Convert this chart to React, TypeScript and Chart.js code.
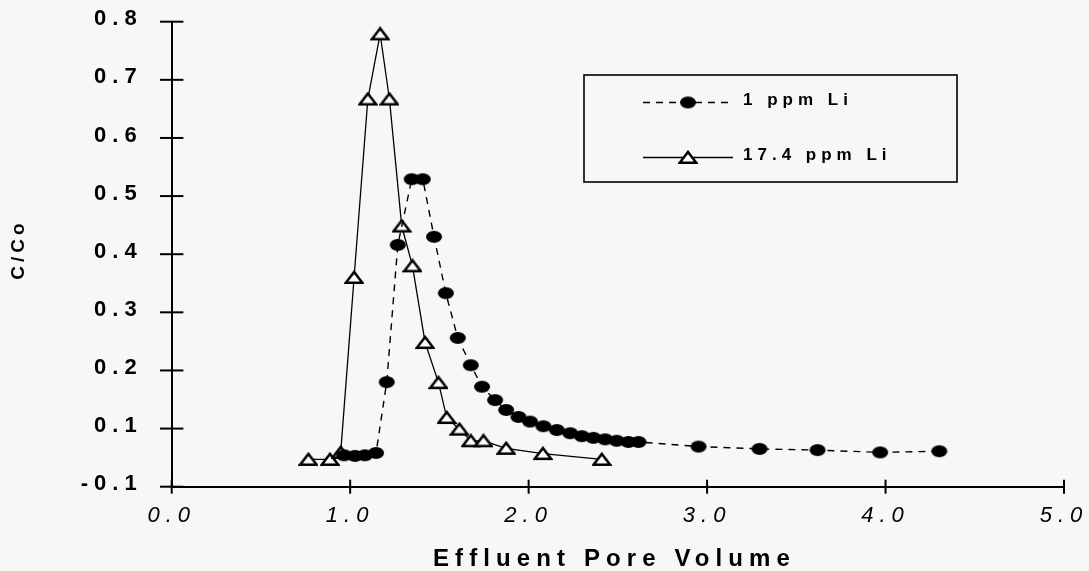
import React, { useEffect, useRef } from 'react';
import { Chart, registerables } from 'chart.js';

Chart.register(...registerables);

// ---- data ----
const SERIES_LABELS = ['1 ppm Li', '17.4 ppm Li'];

const LI1_X = [0.966, 1.027, 1.083, 1.145, 1.205, 1.267, 1.345, 1.407, 1.47, 1.536, 1.603, 1.676, 1.739, 1.812, 1.874, 1.943, 2.008, 2.083, 2.158, 2.233, 2.298, 2.363, 2.429, 2.494, 2.559, 2.616, 2.952, 3.294, 3.619, 3.97, 4.301];
const LI1_Y = [0.054, 0.053, 0.054, 0.058, 0.18, 0.416, 0.529, 0.529, 0.43, 0.333, 0.256, 0.209, 0.172, 0.149, 0.132, 0.12, 0.112, 0.104, 0.0975, 0.092, 0.087, 0.084, 0.0815, 0.079, 0.077, 0.077, 0.069, 0.065, 0.063, 0.059, 0.061];

const LI17_X = [0.766, 0.887, 0.947, 1.022, 1.099, 1.168, 1.22, 1.289, 1.349, 1.42, 1.495, 1.541, 1.612, 1.676, 1.747, 1.874, 2.08, 2.41];
const LI17_Y = [0.047, 0.047, 0.059, 0.36, 0.667, 0.779, 0.667, 0.4485, 0.38, 0.248, 0.179, 0.119, 0.099, 0.079, 0.079, 0.066, 0.057, 0.047];

const X_TICK_LABELS = ['0.0', '1.0', '2.0', '3.0', '4.0', '5.0'];
const Y_TICK_LABELS = ['-0.1', '0.1', '0.2', '0.3', '0.4', '0.5', '0.6', '0.7', '0.8'];
const X_TITLE = 'Effluent Pore Volume';
const Y_TITLE = 'C/Co';

// ---- marker images ----
function makeEllipse(): HTMLCanvasElement {
  const c = document.createElement('canvas');
  c.width = 18;
  c.height = 14;
  const g = c.getContext('2d')!;
  g.fillStyle = '#000';
  g.beginPath();
  g.ellipse(9, 7, 8, 6, 0, 0, Math.PI * 2);
  g.fill();
  return c;
}

function makeTriangle(): HTMLCanvasElement {
  const c = document.createElement('canvas');
  c.width = 20;
  c.height = 15;
  const g = c.getContext('2d')!;
  g.beginPath();
  g.moveTo(10, 2);
  g.lineTo(18.3, 12.8);
  g.lineTo(1.7, 12.8);
  g.closePath();
  g.fillStyle = '#fff';
  g.fill();
  g.lineWidth = 2.6;
  g.strokeStyle = '#000';
  g.lineJoin = 'miter';
  g.stroke();
  return c;
}

const BG = '#f7f7f7';
const TICK_SPACING = '6px';

export default function App() {
  const ref = useRef<HTMLCanvasElement | null>(null);

  useEffect(() => {
    const canvas = ref.current;
    if (!canvas) return;
    const ellipse = makeEllipse();
    const tri = makeTriangle();

    const spacingPlugin = {
      id: 'spacingBg',
      beforeUpdate(chart: any) {
        chart.ctx.letterSpacing = TICK_SPACING;
      },
      beforeDraw(chart: any) {
        const ctx = chart.ctx;
        ctx.save();
        ctx.fillStyle = BG;
        ctx.fillRect(0, 0, chart.width, chart.height);
        ctx.restore();
        ctx.letterSpacing = TICK_SPACING;
      },
    };

    const decorPlugin = {
      id: 'decor',
      afterDraw(chart: any) {
        const ctx = chart.ctx as CanvasRenderingContext2D;
        const area = chart.chartArea;
        const xs = chart.scales.x;
        const ys = chart.scales.y;
        ctx.save();
        // tick marks crossing the axes
        ctx.strokeStyle = '#000';
        ctx.lineWidth = 2;
        ys.ticks.forEach((t: any) => {
          const y = ys.getPixelForValue(t.value);
          ctx.beginPath();
          ctx.moveTo(area.left - 11.7, y);
          ctx.lineTo(area.left + 11.7, y);
          ctx.stroke();
        });
        xs.ticks.forEach((t: any) => {
          const x = xs.getPixelForValue(t.value);
          ctx.beginPath();
          ctx.moveTo(x, area.bottom + 7);
          ctx.lineTo(x, area.bottom - 7);
          ctx.stroke();
        });

        // axis titles
        ctx.fillStyle = '#000';
        ctx.letterSpacing = '6.1px';
        ctx.font = 'bold 24px Arial';
        ctx.textAlign = 'left';
        ctx.textBaseline = 'alphabetic';
        ctx.fillText(X_TITLE, 433, 566);

        ctx.save();
        ctx.letterSpacing = '4px';
        ctx.font = 'bold 19px Arial';
        ctx.translate(18.5, 251.5);
        ctx.rotate(-Math.PI / 2);
        ctx.textBaseline = 'middle';
        const w = ctx.measureText(Y_TITLE).width;
        ctx.fillText(Y_TITLE, -(w - 4) / 2, 0);
        ctx.restore();

        // legend
        ctx.letterSpacing = '0px';
        ctx.lineWidth = 1.6;
        ctx.strokeRect(584, 75, 373, 107);
        const rows = [102.5, 157.5];
        chart.data.datasets.forEach((ds: any, i: number) => {
          const y = rows[i];
          ctx.save();
          ctx.lineWidth = ds.borderWidth;
          ctx.setLineDash(ds.borderDash || []);
          ctx.beginPath();
          ctx.moveTo(643, y);
          ctx.lineTo(733, y);
          ctx.stroke();
          ctx.restore();
          const img = ds.pointStyle as HTMLCanvasElement;
          ctx.drawImage(img, 688 - img.width / 2, y - img.height / 2);
          ctx.letterSpacing = '5px';
          ctx.font = 'bold 17px Arial';
          ctx.textBaseline = 'middle';
          ctx.fillText(ds.label, 743, y - 2);
          ctx.letterSpacing = '0px';
        });
        ctx.restore();
      },
    };

    const chart = new Chart(canvas, {
      type: 'scatter',
      data: {
        datasets: [
          {
            label: SERIES_LABELS[0],
            data: LI1_X.map((x, i) => ({ x, y: LI1_Y[i] })),
            showLine: true,
            borderColor: '#000',
            borderWidth: 1.4,
            borderDash: [7, 6],
            pointStyle: ellipse as any,
            backgroundColor: '#000',
          },
          {
            label: SERIES_LABELS[1],
            data: LI17_X.map((x, i) => ({ x, y: LI17_Y[i] })),
            showLine: true,
            borderColor: '#000',
            borderWidth: 1.3,
            borderDash: [],
            pointStyle: tri as any,
            backgroundColor: '#fff',
          },
        ],
      },
      options: {
        responsive: false,
        animation: false,
        devicePixelRatio: 1,
        layout: {
          autoPadding: false,
          padding: { left: 0, top: 21.7, right: 25, bottom: 0 },
        },
        plugins: {
          legend: { display: false },
          tooltip: { enabled: false },
        },
        elements: { line: { tension: 0 } },
        scales: {
          x: {
            type: 'linear',
            min: 0,
            max: 5,
            ticks: {
              stepSize: 1,
              color: '#000',
              padding: 0,
              font: { family: 'Arial', size: 22, style: 'italic', weight: 'normal' },
              callback: (_v: any, i: number) => X_TICK_LABELS[i],
            },
            grid: {
              drawOnChartArea: false,
              drawTicks: true,
              tickLength: 16,
              tickColor: 'rgba(0,0,0,0)',
              color: '#000',
              lineWidth: 2,
            },
            border: { display: true, color: '#000', width: 2 },
            afterFit: (s: any) => {
              s.height = 84.3;
            },
          },
          y: {
            type: 'linear',
            min: 0,
            max: 0.8,
            ticks: {
              stepSize: 0.1,
              color: '#000',
              padding: 0,
              labelOffset: -2.5,
              font: { family: 'Arial', size: 22, weight: 'bold' },
              callback: (_v: any, i: number) => Y_TICK_LABELS[i],
            },
            grid: {
              drawOnChartArea: false,
              drawTicks: true,
              tickLength: 29,
              tickColor: 'rgba(0,0,0,0)',
              color: '#000',
              lineWidth: 2,
            },
            border: { display: true, color: '#000', width: 2 },
            afterFit: (s: any) => {
              s.width = 171.7;
            },
          },
        },
      },
      plugins: [spacingPlugin, decorPlugin],
    } as any);

    return () => chart.destroy();
  }, []);

  return (
    <div style={{ position: 'fixed', left: 0, top: 0, width: 1089, height: 571, background: BG }}>
      <canvas ref={ref} width={1089} height={571} style={{ display: 'block', width: 1089, height: 571 }} />
    </div>
  );
}
